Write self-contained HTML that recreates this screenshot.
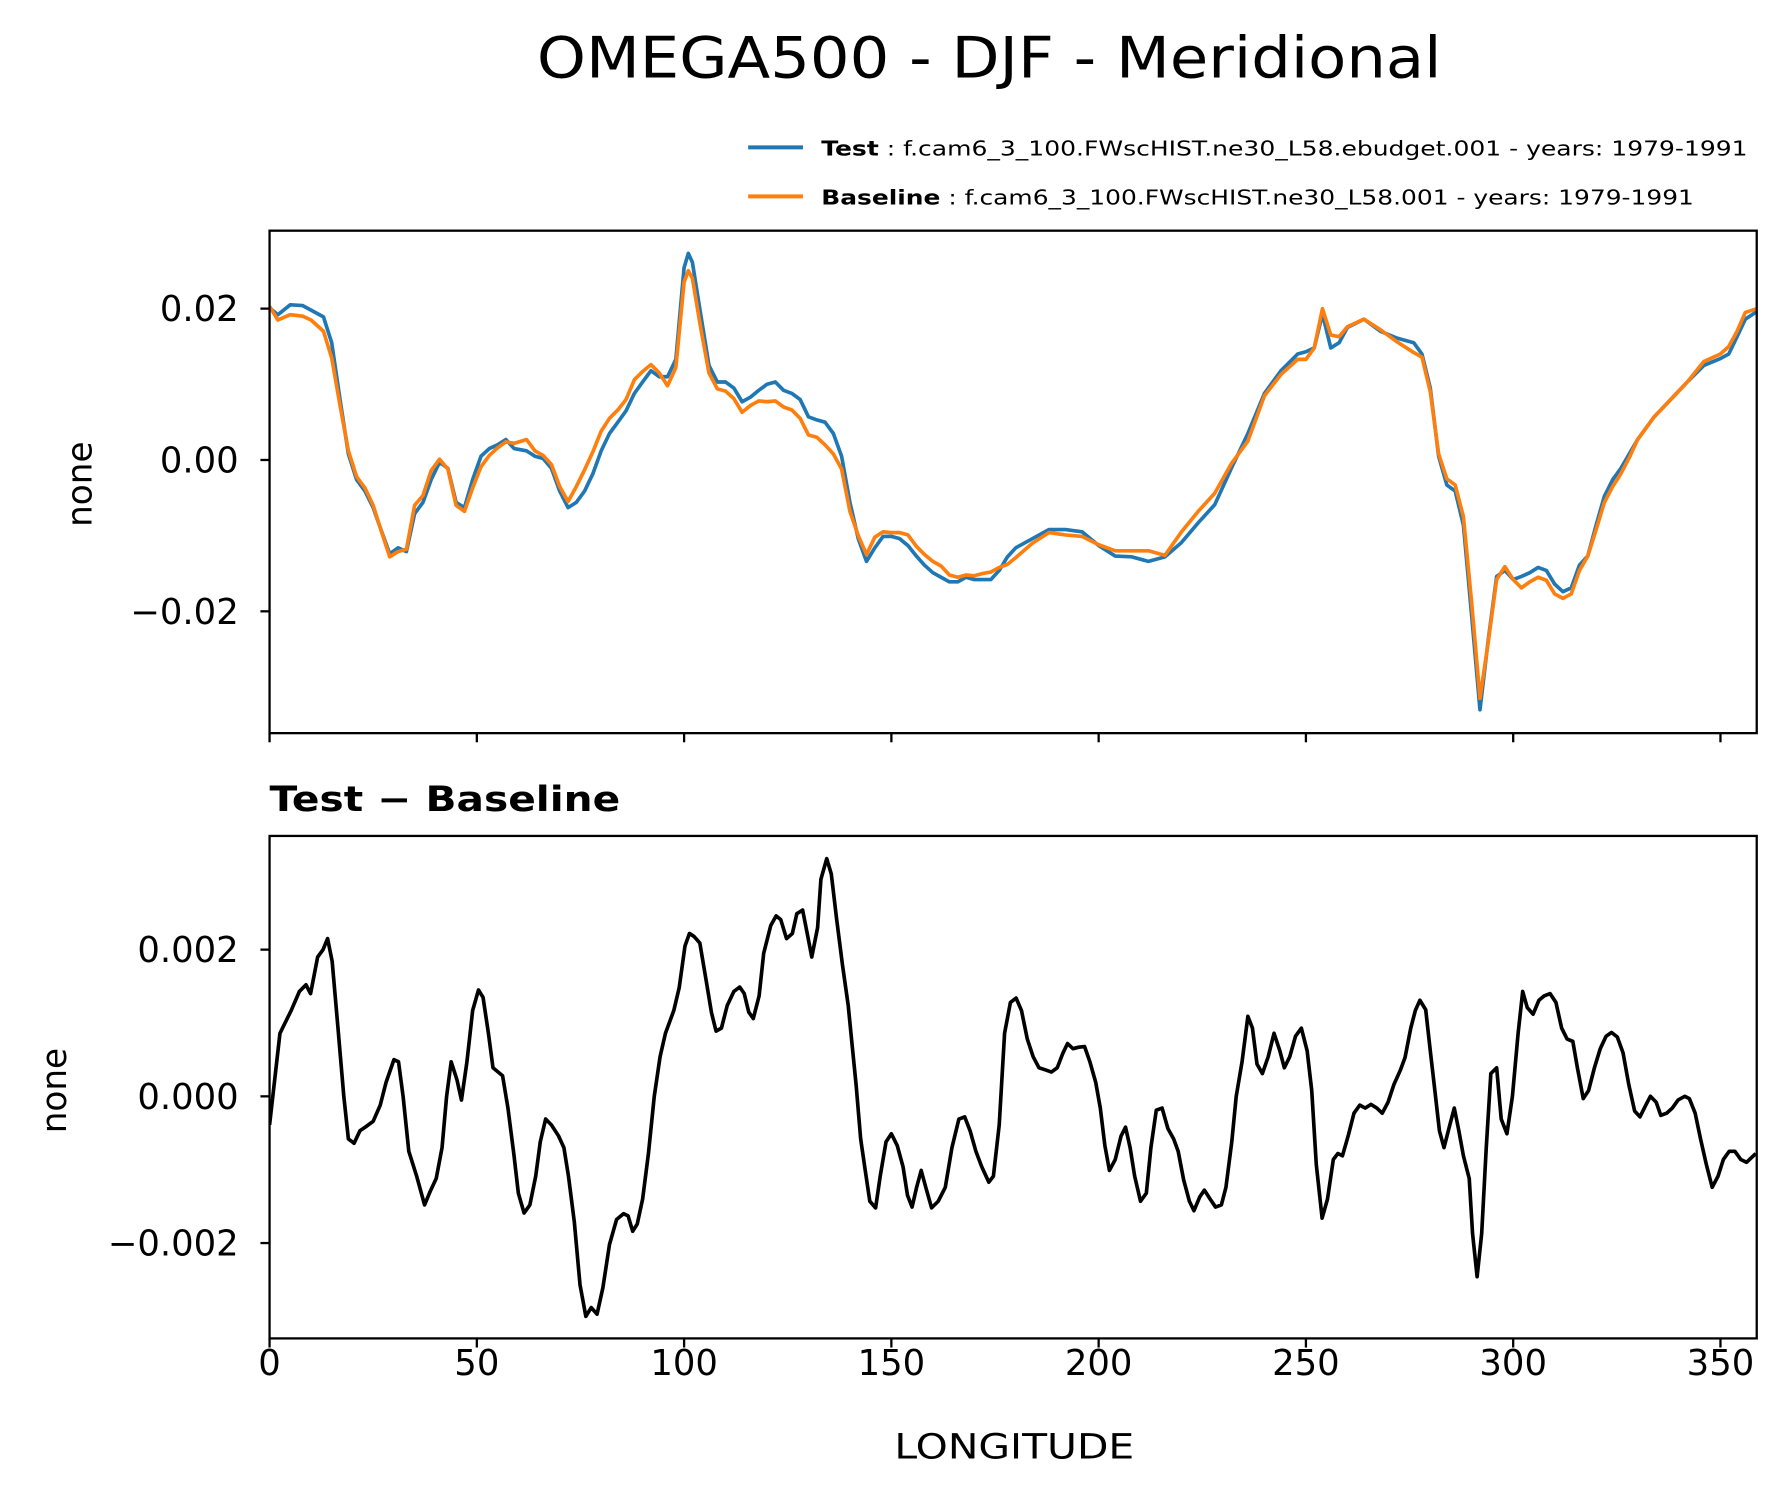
<!DOCTYPE html>
<html><head><meta charset="utf-8"><style>
html,body{margin:0;padding:0;background:#fff;}
svg{display:block;}
text{font-family:"DejaVu Sans","Liberation Sans",sans-serif;fill:#000;}
</style></head><body>
<svg id="fig" width="1791" height="1496" viewBox="0 0 1568 1310" preserveAspectRatio="none" xmlns="http://www.w3.org/2000/svg">
<rect width="1568" height="1310" fill="#fff"/>
<text x="470" y="68" font-size="50" textLength="792" lengthAdjust="spacingAndGlyphs">OMEGA500 - DJF - Meridional</text>
<g>
<line x1="655" y1="129" x2="703" y2="129" stroke="#1f77b4" stroke-width="3.5"/>
<text x="719" y="136" font-size="18" textLength="811" lengthAdjust="spacingAndGlyphs"><tspan font-weight="bold">Test</tspan> : f.cam6_3_100.FWscHIST.ne30_L58.ebudget.001 - years: 1979-1991</text>
<line x1="655" y1="172" x2="703" y2="172" stroke="#ff7f0e" stroke-width="3.5"/>
<text x="719" y="179" font-size="18" textLength="764" lengthAdjust="spacingAndGlyphs"><tspan font-weight="bold">Baseline</tspan> : f.cam6_3_100.FWscHIST.ne30_L58.001 - years: 1979-1991</text>
</g>
<g id="top"></g>
<g id="bot"></g>
<text x="236" y="710" font-size="30" font-weight="bold" textLength="307" lengthAdjust="spacingAndGlyphs">Test − Baseline</text>
<text transform="translate(80,424) rotate(-90)" font-size="30" text-anchor="middle">none</text>
<text transform="translate(58,955) rotate(-90)" font-size="30" text-anchor="middle">none</text>
<text x="783" y="1277" font-size="30" textLength="210" lengthAdjust="spacingAndGlyphs">LONGITUDE</text>
</svg>
<script>
const topLon=[0,2,5,8,10,13,15,17,19,21,23,25,27,29,31,33,35,37,39,41,43,45,47,49,51,53,55,57,59,62,64,66,68,70,72,74,76,78,80,82,84,86,88,90,92,94,96,98,100,101,102,104,106,108,110,112,114,116,118,120,122,124,126,128,130,132,134,136,138,140,142,144,146,148,150,152,154,156,158,160,162,164,166,168,170,172,174,176,178,180,184,188,192,196,200,204,208,212,216,220,224,228,232,236,240,244,248,250,252,254,256,258,260,264,268,272,276,278,280,282,284,286,288,290,292,294,296,298,300,302,304,306,308,310,312,314,316,318,320,322,324,326,328,330,334,338,342,346,350,352,354,356,358.75];
const testVals=[0.0201,0.0192,0.0205,0.0204,0.0198,0.0189,0.0155,0.008,0.0008,-0.0026,-0.0041,-0.0063,-0.0094,-0.0124,-0.0116,-0.0121,-0.0071,-0.0056,-0.0026,-0.0003,-0.0011,-0.0056,-0.0063,-0.0026,0.0005,0.0015,0.002,0.0027,0.0015,0.0012,0.0005,0.0002,-0.0011,-0.0041,-0.0063,-0.0056,-0.0041,-0.0018,0.0012,0.0035,0.005,0.0065,0.0088,0.0103,0.0118,0.011,0.011,0.0133,0.0254,0.0273,0.0261,0.0193,0.0125,0.0103,0.0103,0.0095,0.0077,0.0083,0.0092,0.01,0.0103,0.0092,0.0088,0.008,0.0057,0.0053,0.005,0.0035,0.0005,-0.0056,-0.0104,-0.0134,-0.0116,-0.0101,-0.0101,-0.0104,-0.0113,-0.0127,-0.0139,-0.0149,-0.0155,-0.0161,-0.0161,-0.0155,-0.0158,-0.0158,-0.0158,-0.0146,-0.0128,-0.0116,-0.0104,-0.0092,-0.0092,-0.0095,-0.0113,-0.0127,-0.0128,-0.0134,-0.0128,-0.0109,-0.0083,-0.0059,-0.0011,0.0035,0.0088,0.0118,0.014,0.0143,0.0148,0.0193,0.0148,0.0155,0.0175,0.0186,0.017,0.0161,0.0155,0.014,0.0095,0.0005,-0.0033,-0.0041,-0.0086,-0.0207,-0.033,-0.0237,-0.0154,-0.0146,-0.0158,-0.0154,-0.0149,-0.0142,-0.0146,-0.0164,-0.0174,-0.0169,-0.0139,-0.0127,-0.0086,-0.0048,-0.0026,-0.0011,0.0008,0.0027,0.0057,0.008,0.0103,0.0125,0.0134,0.014,0.0163,0.0186,0.0196];
const baseVals=[0.0203,0.0185,0.0192,0.019,0.0185,0.017,0.0135,0.0072,0.0012,-0.0022,-0.0037,-0.006,-0.0095,-0.0128,-0.0121,-0.0118,-0.006,-0.0047,-0.0014,0.0001,-0.0012,-0.006,-0.0068,-0.0037,-0.0009,0.0006,0.0016,0.0024,0.0022,0.0027,0.0012,0.0006,-0.0006,-0.0035,-0.0055,-0.0035,-0.0013,0.0011,0.0038,0.0055,0.0066,0.008,0.0106,0.0117,0.0126,0.0115,0.0098,0.0122,0.0235,0.025,0.024,0.0175,0.0115,0.0094,0.0091,0.0081,0.0063,0.0072,0.0078,0.0077,0.0078,0.007,0.0066,0.0055,0.0033,0.003,0.002,0.0008,-0.0012,-0.0068,-0.01,-0.0125,-0.0102,-0.0095,-0.0096,-0.0096,-0.0099,-0.0114,-0.0125,-0.0134,-0.014,-0.0152,-0.0155,-0.0152,-0.0153,-0.015,-0.0148,-0.0142,-0.0138,-0.0129,-0.011,-0.0096,-0.0099,-0.0101,-0.0112,-0.012,-0.012,-0.012,-0.0126,-0.0095,-0.0068,-0.0044,-0.0005,0.0025,0.0085,0.0113,0.0133,0.0133,0.0148,0.02,0.0165,0.0163,0.0176,0.0186,0.0172,0.0156,0.0142,0.0136,0.009,0.0008,-0.0025,-0.0033,-0.0075,-0.019,-0.0315,-0.024,-0.0158,-0.0141,-0.0158,-0.0169,-0.0161,-0.0155,-0.0159,-0.0177,-0.0183,-0.0177,-0.0146,-0.0127,-0.0092,-0.0056,-0.0035,-0.0018,0.0003,0.0027,0.0057,0.008,0.0103,0.013,0.014,0.015,0.017,0.0195,0.02];
const diffLon=[0,2.5,5.2,7.2,8.8,9.9,11.6,12.9,14,15.1,16.5,17.9,19,20.4,21.8,23.1,25,26.7,28.1,30,31.1,32.2,33.6,35.5,37.4,38.8,40.2,41.6,42.7,43.8,45.2,46.3,47.6,49,50.4,51.5,52.8,53.9,56.2,57.5,58.9,60,61.4,62.8,64.2,65.3,66.6,68,69.7,71,72.1,73.5,74.9,76.3,77.6,79,80.4,82,83.7,85.4,86.5,87.6,88.7,90,91.4,92.8,94.2,95.5,97.5,98.8,100.2,101.3,102.4,103.8,105.2,106.6,107.7,109,110.4,112,113.4,114.5,115.6,116.7,118.1,119.2,120.9,122.2,123.3,124.7,126.1,127.2,128.6,129.7,130.8,132.2,133,134.4,135.5,136.8,138.2,139.6,140.4,141.5,142.6,143.7,144.8,146.2,147.3,148.7,150,151.4,152.8,153.9,155,156.1,157.2,158.3,159.7,161.3,163,164.6,166.3,167.7,169,170.4,171.8,173.5,174.6,176,177.3,178.7,180.1,181.4,182.8,184.2,185.6,187.2,188.6,190,191.4,192.5,193.8,195.2,196.6,197.9,199.3,200.4,201.5,202.6,204,205.4,206.5,207.6,208.7,210.1,211.5,212.6,213.9,215.3,216.7,218.1,219.2,220.5,221.9,223,224.4,225.5,226.9,228.2,229.6,230.7,232.1,233.2,234.6,236,237.1,238.2,239.5,240.9,242.3,243.7,244.8,246.1,247.5,248.9,250.3,251.4,252.5,253.9,255.2,256.6,257.7,258.8,260.2,261.6,263,264.3,265.7,267.1,268.4,269.8,271.2,272.8,273.9,275.3,276.4,277.5,278.9,280,281.1,282.2,283.3,284.7,285.8,286.9,288,289.4,290.2,291.3,292.4,293.5,294.6,296,297.1,298.5,299.8,301.2,302.3,303.4,304.8,306.2,307.5,308.9,310.3,311.7,313,314.4,315.5,316.9,318.2,319.6,321,322.4,323.7,325.1,326.5,327.9,329.3,330.6,332,333.1,334.5,335.6,337,338.4,339.8,341.4,342.5,343.9,345.2,346.6,348,349.4,350.7,352.1,353.5,354.9,356.3,358.5];
const diffVals=[-0.00039,0.00086,0.00117,0.00143,0.00152,0.0014,0.0019,0.002,0.00215,0.00184,0.00093,0,-0.00058,-0.00064,-0.00047,-0.00042,-0.00034,-0.00012,0.00019,0.0005,0.00047,0,-0.00075,-0.00109,-0.00148,-0.00129,-0.00112,-0.0007,0,0.00047,0.00023,-0.00005,0.00047,0.00117,0.00145,0.00135,0.00086,0.00039,0.00028,-0.00016,-0.00078,-0.00132,-0.00159,-0.00148,-0.00109,-0.00062,-0.00031,-0.00039,-0.00054,-0.0007,-0.00109,-0.00171,-0.00257,-0.003,-0.00288,-0.00297,-0.00261,-0.00202,-0.00168,-0.0016,-0.00163,-0.00184,-0.00174,-0.0014,-0.00078,0,0.00054,0.00086,0.00117,0.00148,0.00205,0.00222,0.00218,0.00209,0.00162,0.00114,0.00089,0.00093,0.00124,0.00143,0.00149,0.0014,0.00115,0.00106,0.00137,0.00195,0.00233,0.00246,0.00241,0.00215,0.00222,0.00249,0.00254,0.00222,0.0019,0.0023,0.00296,0.00324,0.00303,0.00241,0.00179,0.00124,0.00078,0.00016,-0.00058,-0.00101,-0.00143,-0.00152,-0.00109,-0.00062,-0.00051,-0.00067,-0.00096,-0.00135,-0.00151,-0.00124,-0.00101,-0.00124,-0.00152,-0.00143,-0.00124,-0.0007,-0.00031,-0.00028,-0.00047,-0.00075,-0.00096,-0.00117,-0.00109,-0.00039,0.00086,0.00128,0.00134,0.00117,0.00078,0.00054,0.00039,0.00036,0.00033,0.00039,0.00059,0.00072,0.00065,0.00067,0.00068,0.00047,0.00019,-0.00016,-0.00067,-0.00101,-0.00086,-0.00054,-0.00042,-0.0007,-0.00109,-0.00143,-0.00132,-0.0007,-0.00019,-0.00016,-0.00044,-0.00058,-0.00075,-0.00114,-0.00143,-0.00156,-0.00137,-0.00128,-0.0014,-0.00151,-0.00148,-0.00124,-0.00062,0,0.00047,0.00109,0.00093,0.00044,0.00031,0.00054,0.00086,0.00062,0.00039,0.00054,0.00082,0.00093,0.00062,0.00008,-0.00093,-0.00166,-0.0014,-0.00086,-0.00078,-0.00081,-0.00054,-0.00023,-0.00012,-0.00016,-0.00011,-0.00016,-0.00023,-0.00008,0.00016,0.00036,0.00053,0.00093,0.00117,0.00131,0.00118,0.00062,0.00008,-0.00047,-0.0007,-0.00039,-0.00016,-0.00047,-0.00081,-0.00112,-0.00187,-0.00246,-0.00187,-0.0007,0.00031,0.00039,-0.00031,-0.00051,0,0.00086,0.00143,0.00121,0.00112,0.00131,0.00137,0.0014,0.00128,0.00093,0.00078,0.00075,0.00039,-0.00003,0.00008,0.00039,0.00065,0.00082,0.00087,0.00081,0.00059,0.00016,-0.0002,-0.00028,-0.00012,0,-0.00008,-0.00026,-0.00023,-0.00016,-0.00005,0,-0.00003,-0.00023,-0.00058,-0.00093,-0.00124,-0.00109,-0.00086,-0.00075,-0.00075,-0.00086,-0.0009,-0.00078];
const xTicks=[0,50,100,150,200,250,300,350];
const topYTicks=[0.02,0,-0.02];
const topYLabels=["0.02","0.00","−0.02"];
const botYTicks=[0.002,0,-0.002];
const botYLabels=["0.002","0.000","−0.002"];

const NS="http://www.w3.org/2000/svg";
const X0=236,X1=1538,XMAX=358.75;
const sx=v=>X0+(v/XMAX)*(X1-X0);
function mk(tag,attrs,parent){const e=document.createElementNS(NS,tag);for(const k in attrs)e.setAttribute(k,attrs[k]);parent.appendChild(e);return e;}
function panel(g,top,bot,ymin,ymax,yt,yl,showXLabels,series,prefix){
  const sy=v=>bot-(v-ymin)/(ymax-ymin)*(bot-top);
  const clipId=prefix+'clip';
  const cp=mk('clipPath',{id:clipId},g);mk('rect',{x:X0,y:top,width:X1-X0,height:bot-top},cp);
  series.forEach(s=>{
    const d=s.lon.map((l,i)=>(i?'L':'M')+sx(l).toFixed(1)+','+sy(s.val[i]).toFixed(1)).join('');
    const p=mk('path',{d:d,fill:'none',stroke:s.color,'stroke-width':3.2,'stroke-linejoin':'round','clip-path':'url(#'+clipId+')'},g);
    
    
  });
  const fr=mk('rect',{x:X0,y:top,width:X1-X0,height:bot-top,fill:'none',stroke:'#000','stroke-width':2},g);
  
  
  yt.forEach((v,i)=>{
    const y=sy(v);
    const t=mk('line',{x1:X0-8,x2:X0,y1:y,y2:y,stroke:'#000','stroke-width':2},g);
    
    
    const tx=mk('text',{x:X0-27,y:y+11,'font-size':31,'text-anchor':'end'},g);
    tx.textContent=yl[i];
    
    
  });
  xTicks.forEach(v=>{
    const x=sx(v);
    const t=mk('line',{x1:x,x2:x,y1:bot,y2:bot+8,stroke:'#000','stroke-width':2},g);
    
    
    if(showXLabels){
      const tx=mk('text',{x:x,y:bot+32,'font-size':31,'text-anchor':'middle'},g);
      tx.textContent=String(v);
      
      
    }
  });
}
panel(document.getElementById('top'),202,642,-0.0361,0.0303,topYTicks,topYLabels,false,
 [{lon:topLon,val:testVals,color:'#1f77b4',name:'test-line'},{lon:topLon,val:baseVals,color:'#ff7f0e',name:'baseline-line'}],'top-');
panel(document.getElementById('bot'),732,1172,-0.0033,0.00355,botYTicks,botYLabels,true,
 [{lon:diffLon,val:diffVals,color:'#000',name:'difference-line'}],'bottom-');
</script>
</body></html>
